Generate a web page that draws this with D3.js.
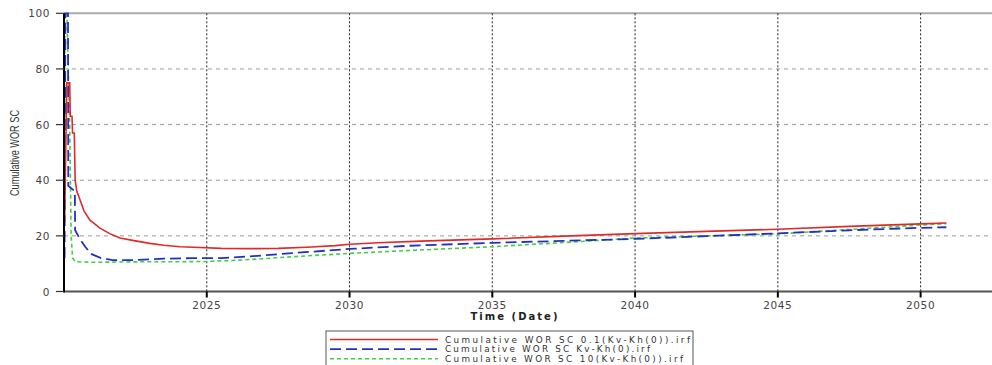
<!DOCTYPE html>
<html><head><meta charset="utf-8">
<script src="https://cdn.jsdelivr.net/npm/d3@7"></script>
<style>body{margin:0;background:#fff}svg{display:block}</style>
</head><body><svg id="c" width="992" height="365"></svg>
<script>
// ---- data (decimal years, Cumulative WOR SC) ----
const xTicks = [2025, 2030, 2035, 2040, 2045, 2050];
const yTicks = [0, 20, 40, 60, 80, 100];
const seriesNames = ["Cumulative WOR SC 0.1(Kv-Kh(0)).irf", "Cumulative WOR SC Kv-Kh(0).irf", "Cumulative WOR SC 10(Kv-Kh(0)).irf"];
const redT = [2020.02,2020.1,2020.2,2020.22,2020.28,2020.3,2020.36,2020.39,2020.45,2020.56,2020.7,2020.9,2021.26,2021.6,2021.96,2022.5,2023.0,2023.5,2024.07,2024.77,2025.5,2026.5,2027.5,2028.5,2029.5,2030,2031,2032.5,2035,2037.5,2040,2042.5,2045,2047.5,2050,2050.9];
const redV = [25,75,75,63,63,57,57,40,36,33,29,25.7,22.8,20.8,19.2,18.2,17.3,16.6,16.1,15.8,15.5,15.4,15.5,15.9,16.5,17.0,17.5,18.1,18.9,19.9,20.8,21.6,22.4,23.4,24.3,24.6];
const blueT = [2020.02,2020.05,2020.14,2020.15,2020.38,2020.39,2020.55,2020.75,2020.95,2021.3,2021.7,2022.5,2023.5,2024.5,2025,2025.5,2026.5,2028,2030,2032,2035,2037.5,2040,2042.5,2045,2047.5,2050,2050.9];
const blueV = [12,100,100,38,36,22,19,16,13.5,12,11.3,11.3,11.8,12,12,12,12.6,13.8,15.3,16.4,17.5,18.2,18.9,19.9,20.9,22.0,22.9,23.1];
const greenT = [2020.01,2020.03,2020.1,2020.2,2020.25,2020.3,2020.4,2021,2022,2023,2024,2025,2026,2027,2028,2030,2032,2035,2037.5,2040,2042.5,2045,2047.5,2050,2050.9];
const greenV = [20,100,100,60,20,12,10.7,10.5,10.6,10.7,10.7,10.8,11.2,11.8,12.5,13.7,14.7,16.1,17.6,19.2,20.0,20.7,22.3,23.9,24.4];

const svg = d3.select("#c");
const L = 64, R = 992, T = 13.3, B = 291.5;
const x = d3.scaleLinear().domain([2020.0, 2052.5]).range([L, R]);
const y = d3.scaleLinear().domain([0, 100]).range([B, T]);
const font = "'Liberation Sans', Arial, sans-serif";
const wide = "'DejaVu Sans', Verdana, sans-serif";

// grid
svg.append("g").selectAll("line").data(yTicks.filter(v => v > 0 && v < 100)).join("line")
  .attr("x1", L).attr("x2", R).attr("y1", d => y(d)).attr("y2", d => y(d))
  .attr("stroke", "#999").attr("stroke-width", 1).attr("stroke-dasharray", "4,4");
svg.append("line").attr("x1", L).attr("x2", R).attr("y1", y(100)).attr("y2", y(100))
  .attr("stroke", "#aaa").attr("stroke-width", 2);
svg.append("g").selectAll("line").data(xTicks).join("line")
  .attr("x1", d => x(d)).attr("x2", d => x(d)).attr("y1", T).attr("y2", B)
  .attr("stroke", "#222").attr("stroke-width", 1).attr("stroke-dasharray", "2,2");

// series
svg.append("clipPath").attr("id", "clip").append("rect")
  .attr("x", L).attr("y", T - 1).attr("width", R - L).attr("height", B - T + 1);
const line = d3.line().x(d => x(d[0])).y(d => y(d[1]));
const series = [
  {t: greenT, v: greenV, color: "#44cc44", dash: "4,3", w: 1.6},
  {t: blueT, v: blueV, color: "#2233bb", dash: "11,5", w: 1.8},
  {t: redT, v: redV, color: "#dd2a2a", dash: null, w: 1.6}
];
const gS = svg.append("g").attr("clip-path", "url(#clip)");
series.forEach(s => {
  gS.append("path").datum(s.t.map((t, i) => [t, s.v[i]]))
    .attr("d", line).attr("fill", "none").attr("stroke", s.color)
    .attr("stroke-width", s.w).attr("stroke-dasharray", s.dash);
});

// axes
svg.append("line").attr("x1", L).attr("x2", R).attr("y1", B).attr("y2", B)
  .attr("stroke", "#555").attr("stroke-width", 2);
svg.append("line").attr("x1", L).attr("x2", L).attr("y1", T).attr("y2", B + 1)
  .attr("stroke", "#000").attr("stroke-width", 2);
svg.append("g").selectAll("line").data(yTicks).join("line")
  .attr("x1", L - 8).attr("x2", L).attr("y1", d => y(d)).attr("y2", d => y(d))
  .attr("stroke", "#333").attr("stroke-width", 1.2);
svg.append("g").selectAll("text").data(yTicks).join("text")
  .attr("x", L - 14).attr("y", d => y(d) + 4).attr("text-anchor", "end")
  .attr("font-family", wide).attr("font-size", 10.5).attr("letter-spacing", 0.6).attr("fill", "#444")
  .text(d => d);
svg.append("g").selectAll("line").data(xTicks).join("line")
  .attr("x1", d => x(d)).attr("x2", d => x(d)).attr("y1", B).attr("y2", B + 6)
  .attr("stroke", "#000").attr("stroke-width", 2);
svg.append("g").selectAll("text").data(xTicks).join("text")
  .attr("x", d => x(d)).attr("y", B + 17).attr("text-anchor", "middle")
  .attr("font-family", wide).attr("font-size", 10.5).attr("letter-spacing", 0.6).attr("fill", "#444")
  .text(d3.format("d"));
svg.append("text").attr("x", 514).attr("y", 320).attr("text-anchor", "middle")
  .attr("font-family", wide).attr("font-size", 10).attr("font-weight", "bold")
  .attr("textLength", 87).attr("lengthAdjust", "spacing")
  .attr("fill", "#222").text("Time (Date)");
svg.append("text").attr("transform", "translate(19,153) rotate(-90)").attr("text-anchor", "middle")
  .attr("font-family", "'Liberation Sans Narrow', 'Arial Narrow', sans-serif").attr("font-size", 12)
  .attr("textLength", 86).attr("lengthAdjust", "spacingAndGlyphs")
  .attr("fill", "#333").text("Cumulative WOR SC");

// legend
const lg = svg.append("g");
lg.append("rect").attr("x", 326).attr("y", 331).attr("width", 367).attr("height", 35)
  .attr("fill", "#fff").attr("stroke", "#555").attr("stroke-width", 1);
const legOrder = [series[2], series[1], series[0]];
const legLen = [245, 205, 238];
legOrder.forEach((s, i) => {
  const yy = 339.5 + i * 9.6;
  lg.append("line").attr("x1", 330).attr("x2", 438).attr("y1", yy).attr("y2", yy)
    .attr("stroke", s.color).attr("stroke-width", 1.6).attr("stroke-dasharray", s.dash);
  lg.append("text").attr("x", 445).attr("y", yy + 3.2)
    .attr("font-family", wide).attr("font-size", 8.8).attr("fill", "#333")
    .attr("textLength", legLen[i]).attr("lengthAdjust", "spacing")
    .text(seriesNames[i]);
});
</script></body></html>
